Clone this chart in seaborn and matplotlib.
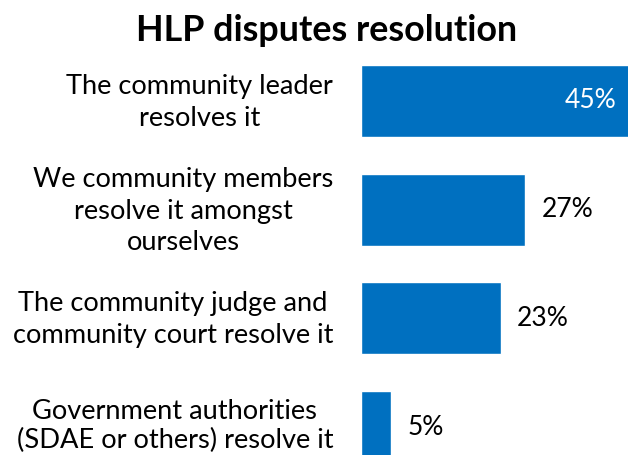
import matplotlib
matplotlib.use("Agg")
import matplotlib.pyplot as plt
import seaborn as sns
import pandas as pd

categories = [
    "The community leader\nresolves it",
    "We community members\nresolve it amongst\nourselves",
    "The community judge and\ncommunity court resolve it",
    "Government authorities\n(SDAE or others) resolve it",
]
shares = [45, 27, 23, 5]
value_labels = ["45%", "27%", "23%", "5%"]

sns.set_style("white")
plt.rcParams["font.family"] = ["Lato", "DejaVu Sans"]

W, H = 628, 455
fig = plt.figure(figsize=(W / 100, H / 100), dpi=100)

# axes spans from the bar origin to the right edge; it runs past the bottom
left_px, right_px = 361, 628
top_px, bottom_px = 46.6, 481.4
ax = fig.add_axes([left_px / W, 1 - bottom_px / H,
                   (right_px - left_px) / W, (bottom_px - top_px) / H])

df = pd.DataFrame({"category": categories, "share": shares})
sns.barplot(data=df, x="share", y="category", orient="h", color="#0070C0",
            saturation=1, width=0.66, ax=ax)

ax.set_xlim(0, 44)
ax.set_ylim(3.5, -0.5)
ax.set_xlabel("")
ax.set_ylabel("")
ax.set_xticks([])
ax.set_yticks([])
sns.despine(ax=ax, left=True, bottom=True, top=True, right=True)

# category labels, right-aligned against the bar origin, lines centred
for i, cat in enumerate(categories):
    last = i == len(categories) - 1
    ax.annotate(cat, xy=(0, i), xytext=(-20, 1 if last else -1),
                textcoords="offset points", ha="right", va="center",
                multialignment="center", linespacing=1.2 if last else 1.33,
                fontsize=19.6, color="black", annotation_clip=False)

for i, (v, txt) in enumerate(zip(shares, value_labels)):
    if v > 40:
        ax.annotate(txt, xy=(ax.get_xlim()[1], i), xytext=(-8, 0),
                    textcoords="offset points", ha="right", va="center",
                    color="white", fontsize=19)
    else:
        ax.annotate(txt, xy=(v, i), xytext=(12, 0),
                    textcoords="offset points", ha="left", va="center",
                    color="black", fontsize=19)

fig.text(327 / W, 1 - 41 / H, "HLP disputes resolution", ha="center",
         va="baseline", fontsize=25.8, fontweight="bold", color="black")

fig.savefig("out.png", dpi=100, facecolor="white")
